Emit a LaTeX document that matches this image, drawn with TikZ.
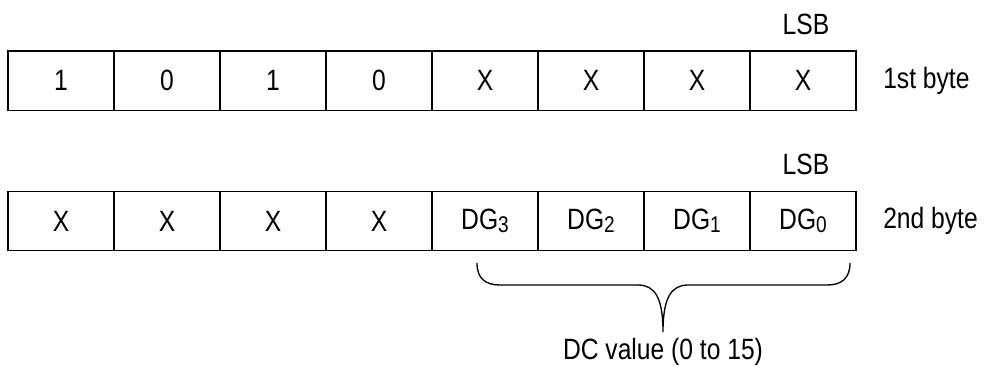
\documentclass[tikz,border=0pt]{standalone}
\usepackage{fontspec}
\setmainfont{Liberation Sans}[FakeStretch=0.84]
\newcommand{\dgsub}[1]{\raisebox{-0.2ex}{\fontsize{17}{19}\selectfont #1}}
\begin{document}
\begin{tikzpicture}[x=0.75pt,y=-0.75pt,
  every node/.style={font=\fontsize{22}{26}\selectfont},
  cell/.style={draw=black, line width=1pt, minimum width=79.5pt, minimum height=44.5pt, inner sep=0pt},
  bytelbl/.style={anchor=west, inner sep=0pt}]

\useasboundingbox (0,0) rectangle (984,365);

% 1st byte
\node[cell] (a1) at (61,80.5) {1};
\node[cell] (a2) at (167,80.5) {0};
\node[cell] (a3) at (273,80.5) {1};
\node[cell] (a4) at (379,80.5) {0};
\node[cell] (a5) at (485,80.5) {X};
\node[cell] (a6) at (591,80.5) {X};
\node[cell] (a7) at (697,80.5) {X};
\node[cell] (a8) at (803,80.5) {X};

\node (lsba) at (806,24) {LSB};
\node[bytelbl] (bytea) at (883,80.5) {1st byte};

% 2nd byte
\node[cell] (b1) at (61,221) {X};
\node[cell] (b2) at (167,221) {X};
\node[cell] (b3) at (273,221) {X};
\node[cell] (b4) at (379,221) {X};
\node[cell] (b5) at (485,221) {DG\dgsub{3}};
\node[cell] (b6) at (591,221) {DG\dgsub{2}};
\node[cell] (b7) at (697,221) {DG\dgsub{1}};
\node[cell] (b8) at (803,221) {DG\dgsub{0}};

\node (lsbb) at (806,164) {LSB};
\node[bytelbl] (byteb) at (883,221) {2nd byte};

% brace under DG3..DG0
\coordinate (brl) at (477,263);
\coordinate (brr) at (850,263);
\coordinate (brtip) at (663,332);
\draw[black, line width=1pt] (brl) .. controls (477,278) and (485,285) .. (500,285) -- (638,285)
  .. controls (655,285) and (663,298) .. (brtip)
  .. controls (663,298) and (671,285) .. (688,285) -- (827,285)
  .. controls (842,285) and (850,278) .. (brr);

\node (dcval) at (663,352) {DC value (0 to 15)};

\end{tikzpicture}
\end{document}
